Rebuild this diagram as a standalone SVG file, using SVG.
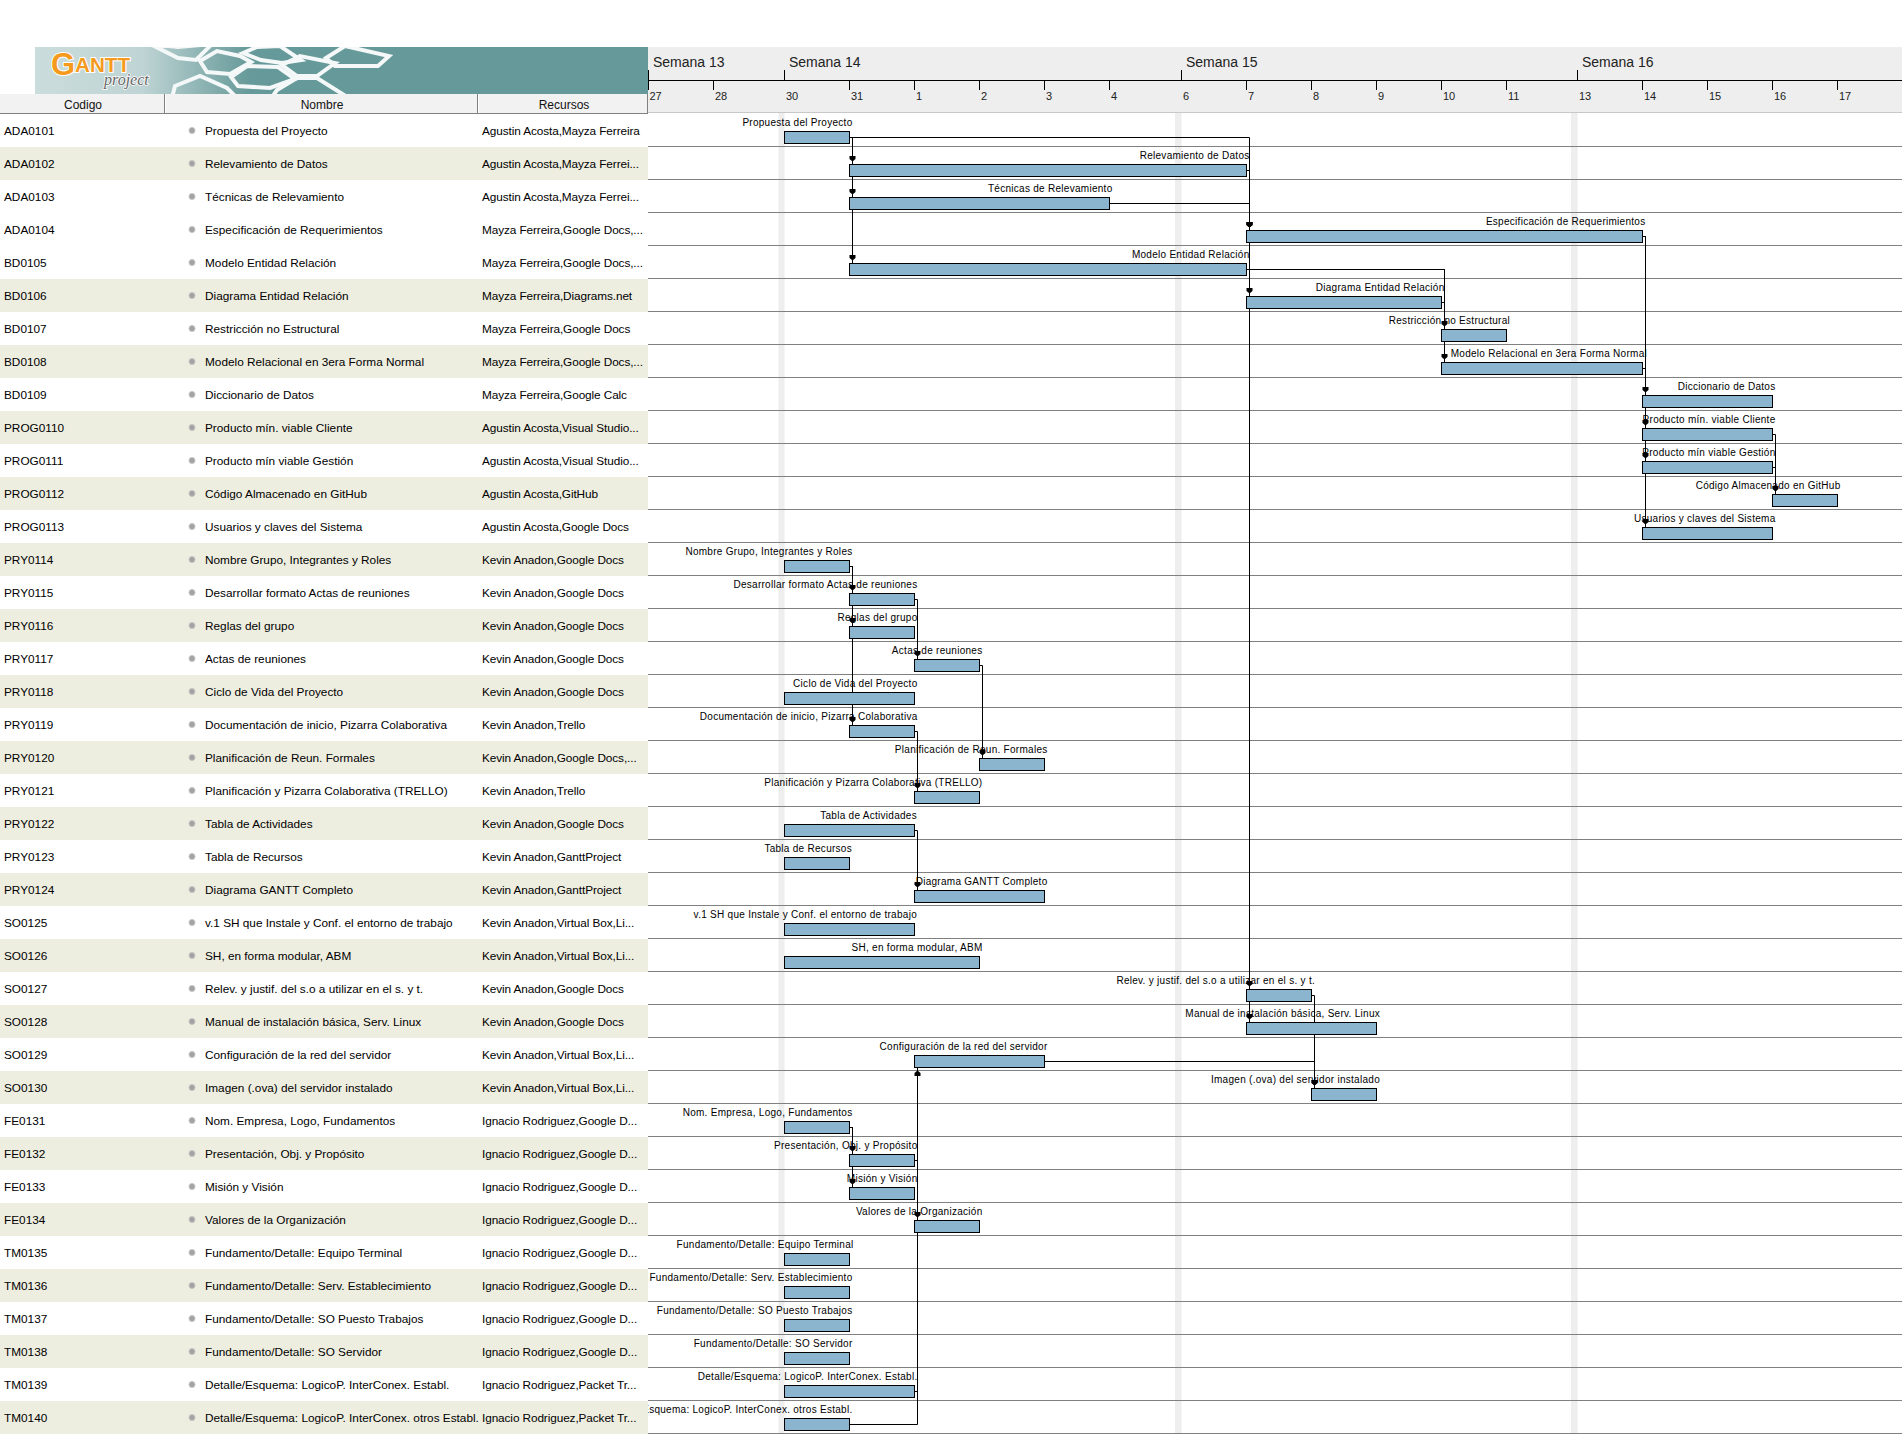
<svg xmlns="http://www.w3.org/2000/svg" width="1902" height="1434" viewBox="0 0 1902 1434">
<style>
text{font-family:"Liberation Sans",Arial,sans-serif;fill:#000}
.c{font-size:11.8px}
.r{font-size:11.8px;letter-spacing:-.1px}
.h{font-size:12px;text-anchor:middle;fill:#111}
.w{font-size:14px;fill:#222}
.d{font-size:11px;fill:#222}
.l{font-size:10px;letter-spacing:.28px;text-anchor:end}
.tint{fill:#eeeee0}
.bar{fill:#8bb4ce;stroke:#000;stroke-width:1}
.dot{fill:#a2a2a2;stroke:#c4c4c4;stroke-width:1}
.rule{stroke:#808080;stroke-width:1;fill:none}
.tick{stroke:#000;stroke-width:1;fill:none}
.band{fill:#eeeeee}
#connectors path{fill:none;stroke:#000;stroke-width:1;marker-end:url(#arrow)}
#connectors path.stub{marker-end:none}
</style>
<defs>
<linearGradient id="fade" gradientUnits="userSpaceOnUse" x1="35" y1="0" x2="250" y2="0">
<stop offset="0" stop-color="#cbdcdc"/><stop offset=".5" stop-color="#bfd4d4"/><stop offset="1" stop-color="#669999"/>
</linearGradient>
<marker id="arrow" markerUnits="userSpaceOnUse" markerWidth="14" markerHeight="12" refX="11" refY="6" orient="auto" overflow="visible">
<path d="M2.5,3 L5.5,3 L8,6 L5.5,9 L2.5,9 z" fill="#000"/>
</marker>
<clipPath id="chartClip"><rect x="648" y="113" width="1254" height="1321"/></clipPath>
<clipPath id="logoClip"><rect x="35" y="47" width="613" height="47"/></clipPath>
</defs>

<g id="banner">
<rect x="35" y="47" width="613" height="47" fill="url(#fade)"/>
<g clip-path="url(#logoClip)" fill="none" stroke="#f4f8f8" stroke-width="4" stroke-linejoin="miter">
<polygon points="150,44 178,47 212,44 196,60 178,58"/>
<polygon points="200,61 217,51 240,56 251,62 230,74 207,72"/>
<polygon points="243,53 257,47 280,46 301,60 282,63 261,60"/>
<polygon points="231,77 247,66 278,67 295,79 270,88 238,86"/>
<polygon points="282,65 300,56 335,63 317,76 297,76"/>
<polygon points="175,86 200,76 227,88 237,98 172,98"/>
<polygon points="277,90 297,78 317,78 352,100 270,100"/>
<polygon points="326,58 345,46 389,56 378,66 335,66"/>
</g>
<text x="51" y="75" font-size="31" font-weight="bold" style="fill:#f59a1c;stroke:#fff;stroke-width:2px;paint-order:stroke">G</text>
<text x="75" y="72" font-size="20" font-weight="bold" textLength="55" lengthAdjust="spacingAndGlyphs" style="fill:#f59a1c;stroke:#fff;stroke-width:2px;paint-order:stroke">ANTT</text>
<text x="104" y="85" font-size="16" font-style="italic" style="font-family:'Liberation Serif',serif;fill:#666;stroke:#fff;stroke-width:1.5px;paint-order:stroke">project</text>
</g>

<g id="timeline">
<rect x="648" y="47" width="1254" height="65" class="band"/>
<path class="rule" d="M648,112.5H1902" style="stroke:#c8c8c8"/>
<path class="tick" d="M648,80.5H1902M648.5,70V90M784.5,70V80M1181.5,70V80M1577.5,70V80M713.5,80V90M849.5,80V90M914.5,80V90M979.5,80V90M1044.5,80V90M1109.5,80V90M1246.5,80V90M1311.5,80V90M1376.5,80V90M1441.5,80V90M1506.5,80V90M1642.5,80V90M1707.5,80V90M1772.5,80V90M1837.5,80V90"/>
<text class="w" x="653" y="67">Semana 13</text><text class="w" x="789" y="67">Semana 14</text><text class="w" x="1186" y="67">Semana 15</text><text class="w" x="1582" y="67">Semana 16</text>
<text class="d" x="649.5" y="100">27</text><text class="d" x="715" y="100">28</text><text class="d" x="786" y="100">30</text><text class="d" x="851" y="100">31</text><text class="d" x="916" y="100">1</text><text class="d" x="981" y="100">2</text><text class="d" x="1046" y="100">3</text><text class="d" x="1111" y="100">4</text><text class="d" x="1183" y="100">6</text><text class="d" x="1248" y="100">7</text><text class="d" x="1313" y="100">8</text><text class="d" x="1378" y="100">9</text><text class="d" x="1443" y="100">10</text><text class="d" x="1508" y="100">11</text><text class="d" x="1579" y="100">13</text><text class="d" x="1644" y="100">14</text><text class="d" x="1709" y="100">15</text><text class="d" x="1774" y="100">16</text><text class="d" x="1839" y="100">17</text>
</g>

<g id="table-header">
<rect x="0" y="94" width="648" height="19" fill="#f2f2f2"/>
<path d="M0,113.5H648M164.5,94V113M477.5,94V113M647.5,94V113" fill="none" stroke="#808080" stroke-width="1"/>
<path d="M165.5,94V113M478.5,94V113" fill="none" stroke="#fff" stroke-width="1"/>
<text class="h" x="83" y="109">Codigo</text><text class="h" x="322" y="109">Nombre</text><text class="h" x="564" y="109">Recursos</text>
</g>

<g id="grid">
<rect x="778.5" y="113" width="6" height="1321" class="band"/><rect x="1175" y="113" width="6.5" height="1321" class="band"/><rect x="1571" y="113" width="6.5" height="1321" class="band"/>
<path class="rule" d="M648,146.5H1902M648,179.5H1902M648,212.5H1902M648,245.5H1902M648,278.5H1902M648,311.5H1902M648,344.5H1902M648,377.5H1902M648,410.5H1902M648,443.5H1902M648,476.5H1902M648,509.5H1902M648,542.5H1902M648,575.5H1902M648,608.5H1902M648,641.5H1902M648,674.5H1902M648,707.5H1902M648,740.5H1902M648,773.5H1902M648,806.5H1902M648,839.5H1902M648,872.5H1902M648,905.5H1902M648,938.5H1902M648,971.5H1902M648,1004.5H1902M648,1037.5H1902M648,1070.5H1902M648,1103.5H1902M648,1136.5H1902M648,1169.5H1902M648,1202.5H1902M648,1235.5H1902M648,1268.5H1902M648,1301.5H1902M648,1334.5H1902M648,1367.5H1902M648,1400.5H1902M648,1433.5H1902"/>
</g>

<g id="bar-labels" clip-path="url(#chartClip)">
<text class="l" x="852.5" y="126">Propuesta del Proyecto</text>
<text class="l" x="1249.5" y="159">Relevamiento de Datos</text>
<text class="l" x="1112.5" y="192">Técnicas de Relevamiento</text>
<text class="l" x="1645.5" y="225">Especificación de Requerimientos</text>
<text class="l" x="1249.5" y="258">Modelo Entidad Relación</text>
<text class="l" x="1444.5" y="291">Diagrama Entidad Relación</text>
<text class="l" x="1510" y="324">Restricción no Estructural</text>
<text class="l" x="1647" y="357">Modelo Relacional en 3era Forma Normal</text>
<text class="l" x="1775.5" y="390">Diccionario de Datos</text>
<text class="l" x="1775.5" y="423">Producto mín. viable Cliente</text>
<text class="l" x="1775.5" y="456">Producto mín viable Gestión</text>
<text class="l" x="1840.5" y="489">Código Almacenado en GitHub</text>
<text class="l" x="1775.5" y="522">Usuarios y claves del Sistema</text>
<text class="l" x="852.5" y="555">Nombre Grupo, Integrantes y Roles</text>
<text class="l" x="917.5" y="588">Desarrollar formato Actas de reuniones</text>
<text class="l" x="917.5" y="621">Reglas del grupo</text>
<text class="l" x="982.5" y="654">Actas de reuniones</text>
<text class="l" x="917.5" y="687">Ciclo de Vida del Proyecto</text>
<text class="l" x="917.5" y="720">Documentación de inicio, Pizarra Colaborativa</text>
<text class="l" x="1047.5" y="753">Planificación de Reun. Formales</text>
<text class="l" x="982.5" y="786">Planificación y Pizarra Colaborativa (TRELLO)</text>
<text class="l" x="917" y="819">Tabla de Actividades</text>
<text class="l" x="852" y="852">Tabla de Recursos</text>
<text class="l" x="1047.5" y="885">Diagrama GANTT Completo</text>
<text class="l" x="917" y="918">v.1 SH que Instale y Conf. el entorno de trabajo</text>
<text class="l" x="982.5" y="951">SH, en forma modular, ABM</text>
<text class="l" x="1315" y="984">Relev. y justif. del s.o a utilizar en el s. y t.</text>
<text class="l" x="1380" y="1017">Manual de instalación básica, Serv. Linux</text>
<text class="l" x="1047.5" y="1050">Configuración de la red del servidor</text>
<text class="l" x="1380" y="1083">Imagen (.ova) del servidor instalado</text>
<text class="l" x="852.5" y="1116">Nom. Empresa, Logo, Fundamentos</text>
<text class="l" x="917.5" y="1149">Presentación, Obj. y Propósito</text>
<text class="l" x="917.5" y="1182">Misión y Visión</text>
<text class="l" x="982.5" y="1215">Valores de la Organización</text>
<text class="l" x="853.5" y="1248">Fundamento/Detalle: Equipo Terminal</text>
<text class="l" x="852.5" y="1281">Fundamento/Detalle: Serv. Establecimiento</text>
<text class="l" x="852.5" y="1314">Fundamento/Detalle: SO Puesto Trabajos</text>
<text class="l" x="852.5" y="1347">Fundamento/Detalle: SO Servidor</text>
<text class="l" x="917.5" y="1380">Detalle/Esquema: LogicoP. InterConex. Establ.</text>
<text class="l" x="852.5" y="1413">Detalle/Esquema: LogicoP. InterConex. otros Establ.</text>
</g>

<g id="connectors">
<path d="M849.5,137.5H852.5V164.5"/><path d="M849.5,137.5H852.5V197.5"/><path d="M849.5,137.5H852.5V263.5"/>
<path d="M849.5,137.5H1249.5V230.5"/><path d="M1246.5,170.5H1249.5V230.5"/><path d="M1109.5,203.5H1249.5V230.5"/>
<path d="M1246.5,170.5H1249.5V296.5"/><path d="M1246.5,170.5H1249.5V989.5"/><path d="M1246.5,170.5H1249.5V1022.5"/>
<path d="M1246.5,269.5H1444.5V329.5"/><path d="M1246.5,269.5H1444.5V362.5"/><path class="stub" d="M1441.5,302.5H1444.5"/>
<path d="M1642.5,236.5H1645.5V395.5"/><path d="M1642.5,236.5H1645.5V428.5"/><path d="M1642.5,236.5H1645.5V461.5"/><path d="M1642.5,236.5H1645.5V527.5"/><path class="stub" d="M1642.5,368.5H1645.5"/>
<path d="M1772.5,434.5H1775.5V494.5"/><path class="stub" d="M1772.5,467.5H1775.5"/>
<path d="M849.5,566.5H852.5V593.5"/><path d="M849.5,566.5H852.5V626.5"/><path d="M849.5,566.5H852.5V725.5"/>
<path d="M914.5,599.5H917.5V659.5"/><path d="M979.5,665.5H982.5V758.5"/><path d="M914.5,731.5H917.5V791.5"/><path d="M914.5,830.5H917.5V890.5"/>
<path d="M1311.5,995.5H1314.5V1088.5"/><path d="M1044.5,1061.5H1314.5V1088.5"/>
<path d="M849.5,1127.5H852.5V1154.5"/><path d="M849.5,1127.5H852.5V1187.5"/>
<path d="M914.5,1160.5H917.5V1220.5"/><path d="M849.5,1424.5H917.5V1067.5"/><path class="stub" d="M914.5,1391.5H917.5"/><path class="stub" d="M914.5,1160.5H917.5"/>
</g>

<g id="ADA0101"><text class="c" x="4" y="135">ADA0101</text><circle class="dot" cx="192" cy="130.5" r="3"/><text class="c" x="205" y="135">Propuesta del Proyecto</text><text class="r" x="482" y="135">Agustin Acosta,Mayza Ferreira</text><rect class="bar" x="784.5" y="131.5" width="65" height="12"/></g>
<g id="ADA0102"><rect class="tint" x="0" y="147" width="648" height="33"/><text class="c" x="4" y="168">ADA0102</text><circle class="dot" cx="192" cy="163.5" r="3"/><text class="c" x="205" y="168">Relevamiento de Datos</text><text class="r" x="482" y="168">Agustin Acosta,Mayza Ferrei...</text><rect class="bar" x="849.5" y="164.5" width="397" height="12"/></g>
<g id="ADA0103"><text class="c" x="4" y="201">ADA0103</text><circle class="dot" cx="192" cy="196.5" r="3"/><text class="c" x="205" y="201">Técnicas de Relevamiento</text><text class="r" x="482" y="201">Agustin Acosta,Mayza Ferrei...</text><rect class="bar" x="849.5" y="197.5" width="260" height="12"/></g>
<g id="ADA0104"><text class="c" x="4" y="234">ADA0104</text><circle class="dot" cx="192" cy="229.5" r="3"/><text class="c" x="205" y="234">Especificación de Requerimientos</text><text class="r" x="482" y="234">Mayza Ferreira,Google Docs,...</text><rect class="bar" x="1246.5" y="230.5" width="396" height="12"/></g>
<g id="BD0105"><text class="c" x="4" y="267">BD0105</text><circle class="dot" cx="192" cy="262.5" r="3"/><text class="c" x="205" y="267">Modelo Entidad Relación</text><text class="r" x="482" y="267">Mayza Ferreira,Google Docs,...</text><rect class="bar" x="849.5" y="263.5" width="397" height="12"/></g>
<g id="BD0106"><rect class="tint" x="0" y="279" width="648" height="33"/><text class="c" x="4" y="300">BD0106</text><circle class="dot" cx="192" cy="295.5" r="3"/><text class="c" x="205" y="300">Diagrama Entidad Relación</text><text class="r" x="482" y="300">Mayza Ferreira,Diagrams.net</text><rect class="bar" x="1246.5" y="296.5" width="195" height="12"/></g>
<g id="BD0107"><text class="c" x="4" y="333">BD0107</text><circle class="dot" cx="192" cy="328.5" r="3"/><text class="c" x="205" y="333">Restricción no Estructural</text><text class="r" x="482" y="333">Mayza Ferreira,Google Docs</text><rect class="bar" x="1441.5" y="329.5" width="65" height="12"/></g>
<g id="BD0108"><rect class="tint" x="0" y="345" width="648" height="33"/><text class="c" x="4" y="366">BD0108</text><circle class="dot" cx="192" cy="361.5" r="3"/><text class="c" x="205" y="366">Modelo Relacional en 3era Forma Normal</text><text class="r" x="482" y="366">Mayza Ferreira,Google Docs,...</text><rect class="bar" x="1441.5" y="362.5" width="201" height="12"/></g>
<g id="BD0109"><text class="c" x="4" y="399">BD0109</text><circle class="dot" cx="192" cy="394.5" r="3"/><text class="c" x="205" y="399">Diccionario de Datos</text><text class="r" x="482" y="399">Mayza Ferreira,Google Calc</text><rect class="bar" x="1642.5" y="395.5" width="130" height="12"/></g>
<g id="PROG0110"><rect class="tint" x="0" y="411" width="648" height="33"/><text class="c" x="4" y="432">PROG0110</text><circle class="dot" cx="192" cy="427.5" r="3"/><text class="c" x="205" y="432">Producto mín. viable Cliente</text><text class="r" x="482" y="432">Agustin Acosta,Visual Studio...</text><rect class="bar" x="1642.5" y="428.5" width="130" height="12"/></g>
<g id="PROG0111"><text class="c" x="4" y="465">PROG0111</text><circle class="dot" cx="192" cy="460.5" r="3"/><text class="c" x="205" y="465">Producto mín viable Gestión</text><text class="r" x="482" y="465">Agustin Acosta,Visual Studio...</text><rect class="bar" x="1642.5" y="461.5" width="130" height="12"/></g>
<g id="PROG0112"><rect class="tint" x="0" y="477" width="648" height="33"/><text class="c" x="4" y="498">PROG0112</text><circle class="dot" cx="192" cy="493.5" r="3"/><text class="c" x="205" y="498">Código Almacenado en GitHub</text><text class="r" x="482" y="498">Agustin Acosta,GitHub</text><rect class="bar" x="1772.5" y="494.5" width="65" height="12"/></g>
<g id="PROG0113"><text class="c" x="4" y="531">PROG0113</text><circle class="dot" cx="192" cy="526.5" r="3"/><text class="c" x="205" y="531">Usuarios y claves del Sistema</text><text class="r" x="482" y="531">Agustin Acosta,Google Docs</text><rect class="bar" x="1642.5" y="527.5" width="130" height="12"/></g>
<g id="PRY0114"><rect class="tint" x="0" y="543" width="648" height="33"/><text class="c" x="4" y="564">PRY0114</text><circle class="dot" cx="192" cy="559.5" r="3"/><text class="c" x="205" y="564">Nombre Grupo, Integrantes y Roles</text><text class="r" x="482" y="564">Kevin Anadon,Google Docs</text><rect class="bar" x="784.5" y="560.5" width="65" height="12"/></g>
<g id="PRY0115"><text class="c" x="4" y="597">PRY0115</text><circle class="dot" cx="192" cy="592.5" r="3"/><text class="c" x="205" y="597">Desarrollar formato Actas de reuniones</text><text class="r" x="482" y="597">Kevin Anadon,Google Docs</text><rect class="bar" x="849.5" y="593.5" width="65" height="12"/></g>
<g id="PRY0116"><rect class="tint" x="0" y="609" width="648" height="33"/><text class="c" x="4" y="630">PRY0116</text><circle class="dot" cx="192" cy="625.5" r="3"/><text class="c" x="205" y="630">Reglas del grupo</text><text class="r" x="482" y="630">Kevin Anadon,Google Docs</text><rect class="bar" x="849.5" y="626.5" width="65" height="12"/></g>
<g id="PRY0117"><text class="c" x="4" y="663">PRY0117</text><circle class="dot" cx="192" cy="658.5" r="3"/><text class="c" x="205" y="663">Actas de reuniones</text><text class="r" x="482" y="663">Kevin Anadon,Google Docs</text><rect class="bar" x="914.5" y="659.5" width="65" height="12"/></g>
<g id="PRY0118"><rect class="tint" x="0" y="675" width="648" height="33"/><text class="c" x="4" y="696">PRY0118</text><circle class="dot" cx="192" cy="691.5" r="3"/><text class="c" x="205" y="696">Ciclo de Vida del Proyecto</text><text class="r" x="482" y="696">Kevin Anadon,Google Docs</text><rect class="bar" x="784.5" y="692.5" width="130" height="12"/></g>
<g id="PRY0119"><text class="c" x="4" y="729">PRY0119</text><circle class="dot" cx="192" cy="724.5" r="3"/><text class="c" x="205" y="729">Documentación de inicio, Pizarra Colaborativa</text><text class="r" x="482" y="729">Kevin Anadon,Trello</text><rect class="bar" x="849.5" y="725.5" width="65" height="12"/></g>
<g id="PRY0120"><rect class="tint" x="0" y="741" width="648" height="33"/><text class="c" x="4" y="762">PRY0120</text><circle class="dot" cx="192" cy="757.5" r="3"/><text class="c" x="205" y="762">Planificación de Reun. Formales</text><text class="r" x="482" y="762">Kevin Anadon,Google Docs,...</text><rect class="bar" x="979.5" y="758.5" width="65" height="12"/></g>
<g id="PRY0121"><text class="c" x="4" y="795">PRY0121</text><circle class="dot" cx="192" cy="790.5" r="3"/><text class="c" x="205" y="795">Planificación y Pizarra Colaborativa (TRELLO)</text><text class="r" x="482" y="795">Kevin Anadon,Trello</text><rect class="bar" x="914.5" y="791.5" width="65" height="12"/></g>
<g id="PRY0122"><rect class="tint" x="0" y="807" width="648" height="33"/><text class="c" x="4" y="828">PRY0122</text><circle class="dot" cx="192" cy="823.5" r="3"/><text class="c" x="205" y="828">Tabla de Actividades</text><text class="r" x="482" y="828">Kevin Anadon,Google Docs</text><rect class="bar" x="784.5" y="824.5" width="130" height="12"/></g>
<g id="PRY0123"><text class="c" x="4" y="861">PRY0123</text><circle class="dot" cx="192" cy="856.5" r="3"/><text class="c" x="205" y="861">Tabla de Recursos</text><text class="r" x="482" y="861">Kevin Anadon,GanttProject</text><rect class="bar" x="784.5" y="857.5" width="65" height="12"/></g>
<g id="PRY0124"><rect class="tint" x="0" y="873" width="648" height="33"/><text class="c" x="4" y="894">PRY0124</text><circle class="dot" cx="192" cy="889.5" r="3"/><text class="c" x="205" y="894">Diagrama GANTT Completo</text><text class="r" x="482" y="894">Kevin Anadon,GanttProject</text><rect class="bar" x="914.5" y="890.5" width="130" height="12"/></g>
<g id="SO0125"><text class="c" x="4" y="927">SO0125</text><circle class="dot" cx="192" cy="922.5" r="3"/><text class="c" x="205" y="927">v.1 SH que Instale y Conf. el entorno de trabajo</text><text class="r" x="482" y="927">Kevin Anadon,Virtual Box,Li...</text><rect class="bar" x="784.5" y="923.5" width="130" height="12"/></g>
<g id="SO0126"><rect class="tint" x="0" y="939" width="648" height="33"/><text class="c" x="4" y="960">SO0126</text><circle class="dot" cx="192" cy="955.5" r="3"/><text class="c" x="205" y="960">SH, en forma modular, ABM</text><text class="r" x="482" y="960">Kevin Anadon,Virtual Box,Li...</text><rect class="bar" x="784.5" y="956.5" width="195" height="12"/></g>
<g id="SO0127"><text class="c" x="4" y="993">SO0127</text><circle class="dot" cx="192" cy="988.5" r="3"/><text class="c" x="205" y="993">Relev. y justif. del s.o a utilizar en el s. y t.</text><text class="r" x="482" y="993">Kevin Anadon,Google Docs</text><rect class="bar" x="1246.5" y="989.5" width="65" height="12"/></g>
<g id="SO0128"><rect class="tint" x="0" y="1005" width="648" height="33"/><text class="c" x="4" y="1026">SO0128</text><circle class="dot" cx="192" cy="1021.5" r="3"/><text class="c" x="205" y="1026">Manual de instalación básica, Serv. Linux</text><text class="r" x="482" y="1026">Kevin Anadon,Google Docs</text><rect class="bar" x="1246.5" y="1022.5" width="130" height="12"/></g>
<g id="SO0129"><text class="c" x="4" y="1059">SO0129</text><circle class="dot" cx="192" cy="1054.5" r="3"/><text class="c" x="205" y="1059">Configuración de la red del servidor</text><text class="r" x="482" y="1059">Kevin Anadon,Virtual Box,Li...</text><rect class="bar" x="914.5" y="1055.5" width="130" height="12"/></g>
<g id="SO0130"><rect class="tint" x="0" y="1071" width="648" height="33"/><text class="c" x="4" y="1092">SO0130</text><circle class="dot" cx="192" cy="1087.5" r="3"/><text class="c" x="205" y="1092">Imagen (.ova) del servidor instalado</text><text class="r" x="482" y="1092">Kevin Anadon,Virtual Box,Li...</text><rect class="bar" x="1311.5" y="1088.5" width="65" height="12"/></g>
<g id="FE0131"><text class="c" x="4" y="1125">FE0131</text><circle class="dot" cx="192" cy="1120.5" r="3"/><text class="c" x="205" y="1125">Nom. Empresa, Logo, Fundamentos</text><text class="r" x="482" y="1125">Ignacio Rodriguez,Google D...</text><rect class="bar" x="784.5" y="1121.5" width="65" height="12"/></g>
<g id="FE0132"><rect class="tint" x="0" y="1137" width="648" height="33"/><text class="c" x="4" y="1158">FE0132</text><circle class="dot" cx="192" cy="1153.5" r="3"/><text class="c" x="205" y="1158">Presentación, Obj. y Propósito</text><text class="r" x="482" y="1158">Ignacio Rodriguez,Google D...</text><rect class="bar" x="849.5" y="1154.5" width="65" height="12"/></g>
<g id="FE0133"><text class="c" x="4" y="1191">FE0133</text><circle class="dot" cx="192" cy="1186.5" r="3"/><text class="c" x="205" y="1191">Misión y Visión</text><text class="r" x="482" y="1191">Ignacio Rodriguez,Google D...</text><rect class="bar" x="849.5" y="1187.5" width="65" height="12"/></g>
<g id="FE0134"><rect class="tint" x="0" y="1203" width="648" height="33"/><text class="c" x="4" y="1224">FE0134</text><circle class="dot" cx="192" cy="1219.5" r="3"/><text class="c" x="205" y="1224">Valores de la Organización</text><text class="r" x="482" y="1224">Ignacio Rodriguez,Google D...</text><rect class="bar" x="914.5" y="1220.5" width="65" height="12"/></g>
<g id="TM0135"><text class="c" x="4" y="1257">TM0135</text><circle class="dot" cx="192" cy="1252.5" r="3"/><text class="c" x="205" y="1257">Fundamento/Detalle: Equipo Terminal</text><text class="r" x="482" y="1257">Ignacio Rodriguez,Google D...</text><rect class="bar" x="784.5" y="1253.5" width="65" height="12"/></g>
<g id="TM0136"><rect class="tint" x="0" y="1269" width="648" height="33"/><text class="c" x="4" y="1290">TM0136</text><circle class="dot" cx="192" cy="1285.5" r="3"/><text class="c" x="205" y="1290">Fundamento/Detalle: Serv. Establecimiento</text><text class="r" x="482" y="1290">Ignacio Rodriguez,Google D...</text><rect class="bar" x="784.5" y="1286.5" width="65" height="12"/></g>
<g id="TM0137"><text class="c" x="4" y="1323">TM0137</text><circle class="dot" cx="192" cy="1318.5" r="3"/><text class="c" x="205" y="1323">Fundamento/Detalle: SO Puesto Trabajos</text><text class="r" x="482" y="1323">Ignacio Rodriguez,Google D...</text><rect class="bar" x="784.5" y="1319.5" width="65" height="12"/></g>
<g id="TM0138"><rect class="tint" x="0" y="1335" width="648" height="33"/><text class="c" x="4" y="1356">TM0138</text><circle class="dot" cx="192" cy="1351.5" r="3"/><text class="c" x="205" y="1356">Fundamento/Detalle: SO Servidor</text><text class="r" x="482" y="1356">Ignacio Rodriguez,Google D...</text><rect class="bar" x="784.5" y="1352.5" width="65" height="12"/></g>
<g id="TM0139"><text class="c" x="4" y="1389">TM0139</text><circle class="dot" cx="192" cy="1384.5" r="3"/><text class="c" x="205" y="1389">Detalle/Esquema: LogicoP. InterConex. Establ.</text><text class="r" x="482" y="1389">Ignacio Rodriguez,Packet Tr...</text><rect class="bar" x="784.5" y="1385.5" width="130" height="12"/></g>
<g id="TM0140"><rect class="tint" x="0" y="1401" width="648" height="33"/><text class="c" x="4" y="1422">TM0140</text><circle class="dot" cx="192" cy="1417.5" r="3"/><text class="c" x="205" y="1422">Detalle/Esquema: LogicoP. InterConex. otros Establ.</text><text class="r" x="482" y="1422">Ignacio Rodriguez,Packet Tr...</text><rect class="bar" x="784.5" y="1418.5" width="65" height="12"/></g>
</svg>
